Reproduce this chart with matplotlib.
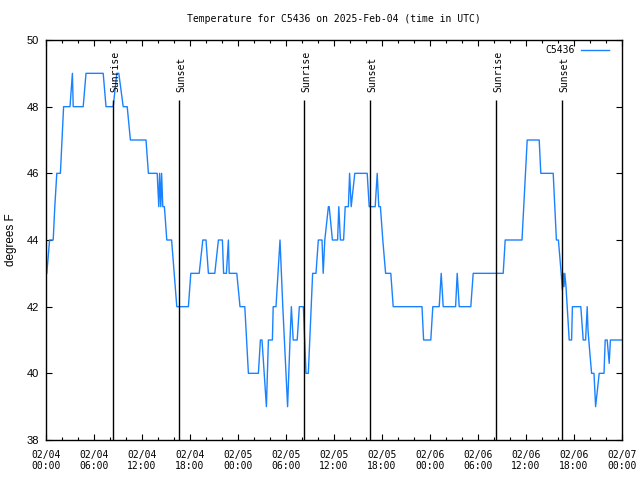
import matplotlib
matplotlib.use("Agg")
import matplotlib.pyplot as plt
from matplotlib.ticker import MultipleLocator

# hours since 2025-02-04 00:00 UTC and temperature (F)
hours = [0.1, 0.45, 0.9, 1.1, 1.35, 1.8, 2.0, 2.2, 3.0, 3.3, 3.4, 4.65, 5.0, 7.15, 7.5,
         8.4, 8.85, 9.1, 9.65, 10.15, 10.55, 12.5, 12.8, 13.9, 14.1, 14.2, 14.35, 14.45,
         14.6, 14.8, 15.1, 15.7, 16.35, 17.8, 18.1, 19.15, 19.6, 20.0, 20.3, 21.1, 21.55,
         22.05, 22.2, 22.55, 22.8, 22.9, 23.85, 24.25, 24.85, 25.3, 26.55, 26.8, 27.0,
         27.55, 27.8, 28.3, 28.4, 28.75, 29.25, 29.6, 30.2, 30.5, 30.67, 30.9, 31.4,
         31.67, 32.17, 32.5, 32.79, 33.33, 33.75, 34.04, 34.5, 34.65, 34.85, 35.3, 35.4,
         35.8, 36.45, 36.6, 36.8, 37.2, 37.4, 37.8, 37.95, 38.15, 38.6, 40.15, 40.4,
         41.15, 41.4, 41.6, 41.8, 42.1, 42.45, 43.1, 43.4, 47.0, 47.2, 48.1, 48.35,
         49.15, 49.4, 49.65, 51.2, 51.4, 51.65, 53.1, 53.4, 57.15, 57.4, 59.5, 60.15,
         61.65, 61.85, 63.4, 63.8, 64.05, 64.4, 64.55, 64.65, 64.75, 64.85, 65.0, 65.2,
         65.4, 65.7, 65.8, 66.85, 67.15, 67.45, 67.65, 67.75, 67.95, 68.2, 68.5, 68.7,
         69.15, 69.75, 69.9, 70.15, 70.4, 70.55, 72.0]
temps = [43, 44, 44, 45, 46, 46, 47, 48, 48, 49, 48, 48, 49, 49, 48,
         48, 49, 49, 48, 48, 47, 47, 46, 46, 45, 46, 45, 46,
         45, 45, 44, 44, 42, 42, 43, 43, 44, 44, 43, 43, 44,
         44, 43, 43, 44, 43, 43, 42, 42, 40, 40, 41, 41,
         39, 41, 41, 42, 42, 44, 42, 39, 41, 42, 41, 41,
         42, 42, 40, 40, 43, 43, 44, 44, 43, 44, 45, 45,
         44, 44, 45, 44, 44, 45, 45, 46, 45, 46, 46, 45,
         45, 46, 45, 45, 44, 43, 43, 42, 42, 41, 41, 42,
         42, 43, 42, 42, 43, 42, 42, 43, 43, 44, 44, 47,
         47, 46, 46, 44, 44, 43, 42.5, 43, 42.6, 43, 42.6, 41.8,
         41, 41, 42, 42, 41, 41, 42, 41.3, 40.7, 40, 40, 39,
         40, 40, 41, 41, 40.3, 41, 41]

sun_hours = [8.375, 16.625, 32.29, 40.5, 56.2, 64.5]
sun_labels = ["Sunrise", "Sunset", "Sunrise", "Sunset", "Sunrise", "Sunset"]

tick_hours = [0, 6, 12, 18, 24, 30, 36, 42, 48, 54, 60, 66, 72]
tick_labels = ["02/04\n00:00", "02/04\n06:00", "02/04\n12:00", "02/04\n18:00",
               "02/05\n00:00", "02/05\n06:00", "02/05\n12:00", "02/05\n18:00",
               "02/06\n00:00", "02/06\n06:00", "02/06\n12:00", "02/06\n18:00",
               "02/07\n00:00"]
y_ticks = [38, 40, 42, 44, 46, 48, 50]

mono = "DejaVu Sans Mono"
sans = "Liberation Sans"

fig, ax = plt.subplots(figsize=(6.4, 4.8), dpi=100)
fig.subplots_adjust(left=46/640, right=622/640, bottom=40/480, top=440/480)

ax.plot(hours, temps, color="#1a82ff", linewidth=1.0, label="C5436", zorder=2)

# sunrise / sunset markers
for h, lab in zip(sun_hours, sun_labels):
    ax.vlines(h, 38, 48.2, color="black", linewidth=1.0, zorder=3)
    ax.text(h + 0.3, 48.44, lab, rotation=90, ha="center", va="bottom",
            family=mono, fontsize=7)

ax.set_xlim(0, 72)
ax.set_ylim(38, 50)
ax.tick_params(which="both", direction="in", top=True, right=True, width=0.8)
ax.tick_params(axis="x", which="major", length=4, pad=7)
ax.tick_params(axis="x", which="minor", length=2)
ax.tick_params(axis="y", which="major", length=4, pad=5)
ax.set_xticks(tick_hours)
ax.set_xticklabels(tick_labels, fontfamily=mono, fontsize=7)
ax.xaxis.set_minor_locator(MultipleLocator(2))
ax.set_yticks(y_ticks)
ax.set_yticklabels([str(v) for v in y_ticks], fontfamily=sans, fontsize=8)
for s in ax.spines.values():
    s.set_linewidth(1.0)

ax.set_ylabel("degrees F", fontfamily=sans, fontsize=8.5, labelpad=7)
ax.set_title("Temperature for C5436 on 2025-Feb-04 (time in UTC)",
             fontfamily=mono, fontsize=7, pad=13)

ax.legend(loc="upper right", bbox_to_anchor=(1 - 13/576, 1 - 5/400), frameon=False,
          markerfirst=False, handlelength=2.9, handletextpad=0.6, borderpad=0,
          borderaxespad=0, prop={"family": mono, "size": 7})

fig.savefig("out.png", dpi=100)
